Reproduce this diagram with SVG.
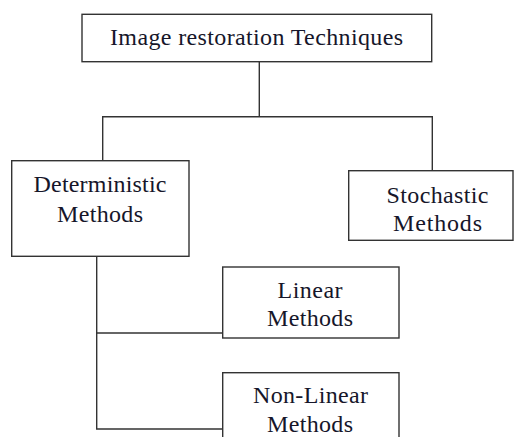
<svg xmlns="http://www.w3.org/2000/svg" width="517" height="437" viewBox="0 0 517 437">
<style>
.box{fill:#fff;stroke:#333;stroke-width:1.4}
.ln{fill:none;stroke:#333;stroke-width:1.4}
text{font-family:"Liberation Serif","Times New Roman",serif;font-size:24px;fill:#16162a;text-anchor:middle}
</style>
<rect width="517" height="437" fill="#fff"/>
<g id="connectors">
<polyline class="ln" points="259.3,62 259.3,116.7"/>
<polyline class="ln" points="102.7,160.7 102.7,116.7 432.3,116.7 432.3,170.7"/>
<polyline class="ln" points="96.7,256.3 96.7,429 222.7,429"/>
<polyline class="ln" points="96.7,333 222.7,333"/>
</g>
<g id="root">
<rect class="box" x="82" y="14.3" width="349.7" height="47.4"/>
<text x="256.5" y="45" textLength="293" lengthAdjust="spacing">Image restoration  Techniques</text>
</g>
<g id="deterministic">
<rect class="box" x="11.7" y="160.7" width="177.3" height="95.6"/>
<text x="100" y="191.7" textLength="133" lengthAdjust="spacing">Deterministic</text>
<text x="100" y="221.7" textLength="86" lengthAdjust="spacing">Methods</text>
</g>
<g id="stochastic">
<rect class="box" x="348.7" y="170.7" width="164.3" height="69.6"/>
<text x="437.5" y="203.3" textLength="102" lengthAdjust="spacing">Stochastic</text>
<text x="437.5" y="230.7" textLength="89" lengthAdjust="spacing">Methods</text>
</g>
<g id="linear">
<rect class="box" x="222.7" y="267" width="176.3" height="71"/>
<text x="310" y="298.3" textLength="65" lengthAdjust="spacing">Linear</text>
<text x="310" y="326" textLength="86" lengthAdjust="spacing">Methods</text>
</g>
<g id="nonlinear">
<rect class="box" x="222.7" y="372.7" width="176.3" height="80"/>
<text x="310.5" y="403.3" textLength="115" lengthAdjust="spacing">Non-Linear</text>
<text x="310" y="431.7" textLength="86" lengthAdjust="spacing">Methods</text>
</g>
</svg>
